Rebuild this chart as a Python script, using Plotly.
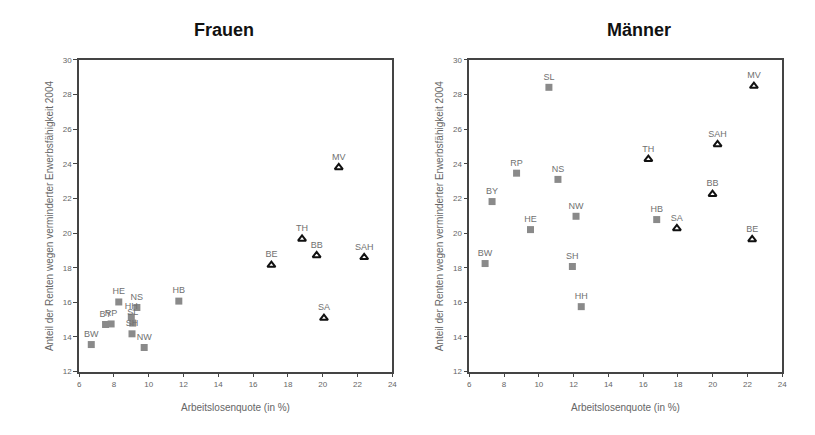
import plotly.graph_objects as go

# Frauen (women)
f_west_labels = ["BW", "BY", "RP", "HE", "NS", "HH", "SL", "SH", "NW", "HB"]
f_west_x = [6.70, 7.52, 7.84, 8.28, 9.32, 9.00, 9.08, 9.04, 9.74, 11.73]
f_west_y = [13.56, 14.72, 14.75, 16.02, 15.70, 15.15, 14.80, 14.18, 13.39, 16.07]
f_east_labels = ["BE", "TH", "BB", "SAH", "MV", "SA"]
f_east_x = [17.05, 18.81, 19.65, 22.38, 20.92, 20.07]
f_east_y = [18.15, 19.66, 18.71, 18.60, 23.79, 15.09]

# Männer (men)
m_west_labels = ["SL", "RP", "NS", "BY", "NW", "HB", "HE", "BW", "SH", "HH"]
m_west_x = [10.58, 8.72, 11.10, 7.31, 12.14, 16.78, 9.52, 6.91, 11.93, 12.44]
m_west_y = [28.42, 23.46, 23.10, 21.82, 20.97, 20.78, 20.20, 18.24, 18.07, 15.75]
m_east_labels = ["MV", "SAH", "TH", "BB", "SA", "BE"]
m_east_x = [22.37, 20.28, 16.30, 19.99, 17.94, 22.27]
m_east_y = [28.49, 25.12, 24.27, 22.25, 20.27, 19.63]

x_ticks = [6, 8, 10, 12, 14, 16, 18, 20, 22, 24]
y_ticks = [12, 14, 16, 18, 20, 22, 24, 26, 28, 30]

titles = ["Frauen", "Männer"]
x_title = "Arbeitslosenquote (in %)"
y_title = "Anteil der Renten wegen verminderter Erwerbsfähigkeit 2004"

# the page body has an 8px margin; the figure is sized/positioned to compensate
OFF = 8
W, H = 815 - OFF, 435 - OFF


def px(x):
    return (x - OFF) / W


def py(y):
    return 1 - (y - OFF) / H


lab_font = dict(family="Liberation Sans, Arial", size=9, color="#707070")

fig = go.Figure()


def add_panel(xa, ya, wl, wx, wy, el, ex, ey):
    fig.add_trace(go.Scatter(
        x=wx, y=wy, text=wl, mode="markers+text", textposition="top center",
        textfont=lab_font, xaxis=xa, yaxis=ya, showlegend=False, cliponaxis=False,
        marker=dict(symbol="square", size=7, color="#8a8a8a", line=dict(width=0))))
    fig.add_trace(go.Scatter(
        x=ex, y=ey, text=el, mode="markers+text", textposition="top center",
        textfont=lab_font, xaxis=xa, yaxis=ya, showlegend=False, cliponaxis=False,
        marker=dict(symbol="triangle-up", size=7, color="white",
                    line=dict(width=2, color="#111111"))))


add_panel("x", "y", f_west_labels, f_west_x, f_west_y, f_east_labels, f_east_x, f_east_y)
add_panel("x2", "y2", m_west_labels, m_west_x, m_west_y, m_east_labels, m_east_x, m_east_y)

ax_common = dict(showgrid=False, zeroline=False, showline=True, linecolor="#444444",
                 linewidth=1.5, mirror=True, ticks="outside", ticklen=4, tickwidth=1,
                 tickcolor="#444444",
                 tickfont=dict(family="Liberation Sans, Arial", size=8, color="#666666"))

x1d = [px(77.7), px(393.7)]
x2d = [px(471.3), px(787.0)]
yd = [py(375.3), py(57.0)]

fig.update_layout(
    width=W, height=H, margin=dict(l=0, r=0, t=0, b=0),
    paper_bgcolor="white", plot_bgcolor="white",
    xaxis=dict(domain=x1d, range=[6, 24], tickvals=x_ticks, anchor="y", **ax_common),
    yaxis=dict(domain=yd, range=[12, 30], tickvals=y_ticks, anchor="x", **ax_common),
    xaxis2=dict(domain=x2d, range=[6, 24], tickvals=x_ticks, anchor="y2", **ax_common),
    yaxis2=dict(domain=yd, range=[12, 30], tickvals=y_ticks, anchor="x2", **ax_common),
)

title_font = dict(family="Liberation Sans, Arial", size=18, color="#111111")
axt_font = dict(family="Liberation Sans, Arial", size=10, color="#666666")
ann = []
for xd, t, tx in [(x1d, titles[0], 224), (x2d, titles[1], 643)]:
    cx = (xd[0] + xd[1]) / 2
    ann.append(dict(text="<b>%s</b>" % t, x=px(tx), y=py(26), xref="paper", yref="paper",
                    showarrow=False, font=title_font, xanchor="center", yanchor="middle"))
    ann.append(dict(text=x_title, x=cx, y=py(412), xref="paper", yref="paper",
                    showarrow=False, font=axt_font, xanchor="center", yanchor="middle"))
    ann.append(dict(text=y_title, x=xd[0] - 30 / W, y=(yd[0] + yd[1]) / 2, xref="paper",
                    yref="paper", showarrow=False, font=axt_font, textangle=-90,
                    xanchor="center", yanchor="middle"))
fig.update_layout(annotations=ann)

fig.write_html("out.html")
